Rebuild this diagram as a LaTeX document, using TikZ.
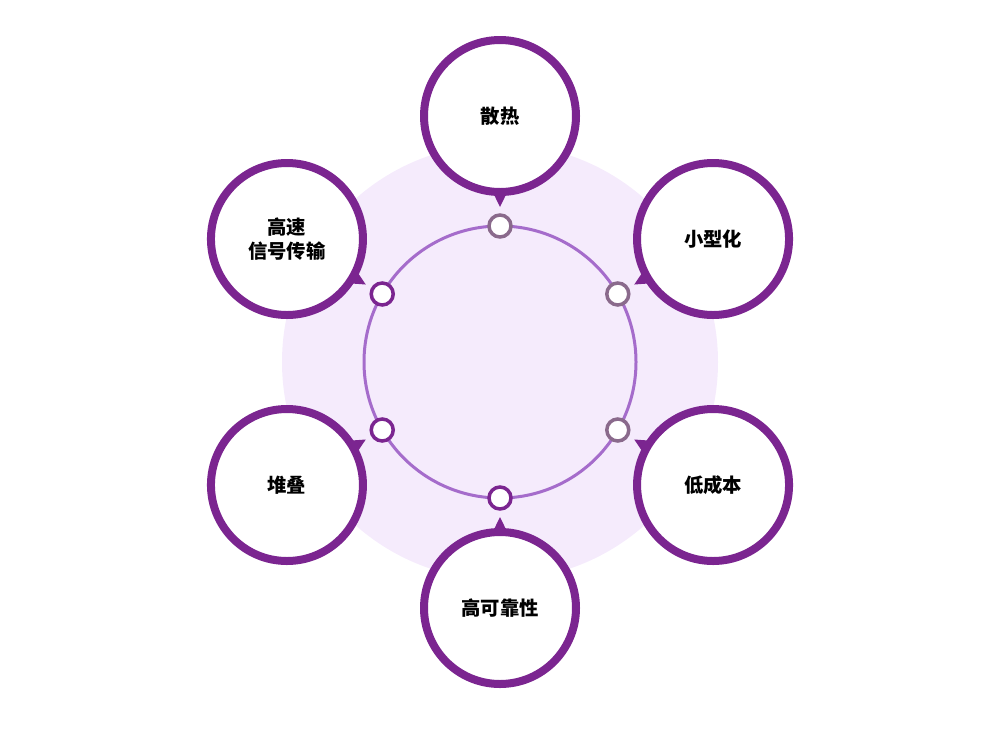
\documentclass[tikz,border=0pt]{standalone}
\usepackage{fontspec}
\newfontfamily\cjk{Noto Sans CJK SC}
\usetikzlibrary{positioning, calc}
\definecolor{deeppurple}{HTML}{7B2590}
\definecolor{ringpurple}{HTML}{A56CCB}
\definecolor{softbg}{HTML}{F5EBFC}
\definecolor{greyknob}{HTML}{8A6A8C}

\begin{document}
\begin{tikzpicture}[
    % Define styles for the bubbles, the ring knobs and the text.
    bubble/.style={
      circle, minimum size=3.04cm, draw=deeppurple, line width=0.16cm,
      fill=white, align=center, font=\cjk\bfseries\fontsize{11}{14}\selectfont
    },
    knob/.style={
      circle, minimum size=0.44cm, inner sep=0pt, fill=white, line width=0.07cm
    },
    pointer/.style={fill=deeppurple}
]
\useasboundingbox (0,0) rectangle (20,-14.74);

% Centre of the diagram
\coordinate (hub) at (10,-7.24);

% Soft background disc and the inner ring
\fill [softbg] (hub) circle (4.36cm);
\draw [ringpurple, line width=0.06cm] (hub) circle (2.72cm);

% Bubbles, pointers and knobs around the ring
\foreach \ang/\name/\txt/\kc in {
    90/heat/散热/greyknob,
    30/small/小型化/greyknob,
    -30/cost/低成本/greyknob,
    -90/reliab/高可靠性/deeppurple,
    -150/stack/堆叠/deeppurple,
    150/speed/{高速\\信号传输}/deeppurple} {
  \fill [pointer] ($(hub)+(\ang:3.1)$) -- ($(hub)+(\ang:3.45)+(\ang+90:0.17)$)
        -- ($(hub)+(\ang:3.45)+(\ang-90:0.17)$) -- cycle;
  \node [bubble] (\name) at ($(hub)+(\ang:4.92)$) {\txt};
  \node [knob, draw=\kc] (\name knob) at ($(hub)+(\ang:2.72)$) {};
}

\end{tikzpicture}
\end{document}
